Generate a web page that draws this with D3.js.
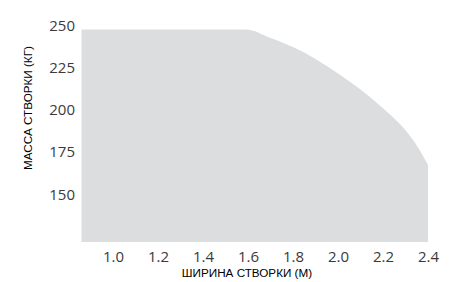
<!DOCTYPE html>
<html>
<head>
<meta charset="utf-8">
<script src="https://cdn.jsdelivr.net/npm/d3@7"></script>
<style>
  body { margin:0; background:#fff; }
  .tick text { font-family:"Open Sans", sans-serif; font-size:15px; fill:#3a3a3a; }
  .title { font-family:"Liberation Sans", Arial, sans-serif; font-size:11.7px; fill:#000; }
</style>
</head>
<body>
<div id="plot"></div>
<script>
// ширина створки (м) and max mass (кг)
var widths = [0.86, 1.2, 1.59, 1.7, 1.8, 1.9, 2.0, 2.1, 2.2, 2.25, 2.3, 2.35, 2.4];
var masses = [250, 250, 250, 245, 239.6, 232.6, 224, 214.5, 203.5, 197.5, 190.5, 181.5, 170];
var xTicks = [1.0, 1.2, 1.4, 1.6, 1.8, 2.0, 2.2, 2.4];
var yTicks = [150, 175, 200, 225, 250];

var W = 450, H = 282;

var svg = d3.select('#plot')
	.append('svg')
	.attr('width', W)
	.attr('height', H);

var x = d3.scaleLinear().domain([1.0, 2.4]).range([113, 428]);
var y = d3.scaleLinear().domain([124.5, 250]).range([242, 29.5]);

var data = widths.map(function(w, i) { return {w: w, m: masses[i]}; });

var area = d3.area()
	.x(function(d) { return x(d.w); })
	.y0(y(124.5))
	.y1(function(d) { return y(d.m); })
	.curve(d3.curveMonotoneX);

svg.append('path')
	.datum(data)
	.attr('d', area)
	.style('fill', '#dcdddf');

//x axis
var xAxis = svg.append('g')
	.attr('transform', 'translate(0,' + y(124.5) + ')')
	.call(d3.axisBottom(x).tickValues(xTicks).tickFormat(d3.format('.1f')).tickSize(0).tickPadding(9));
xAxis.select('.domain').remove();

//y axis, labels sit with their baseline on the value
var yAxis = svg.append('g')
	.attr('transform', 'translate(75,0)')
	.call(d3.axisLeft(y).tickValues(yTicks).tickSize(0).tickPadding(0));
yAxis.select('.domain').remove();
yAxis.selectAll('text').attr('dy', '0.5');

svg.append('text')
	.attr('class', 'title')
	.attr('x', 247)
	.attr('y', 277)
	.attr('text-anchor', 'middle')
	.text('ШИРИНА СТВОРКИ (М)');

svg.append('text')
	.attr('class', 'title')
	.attr('transform', 'translate(32,108) rotate(-90)')
	.attr('text-anchor', 'middle')
	.text('МАССА СТВОРКИ (КГ)');
</script>
</body>
</html>
